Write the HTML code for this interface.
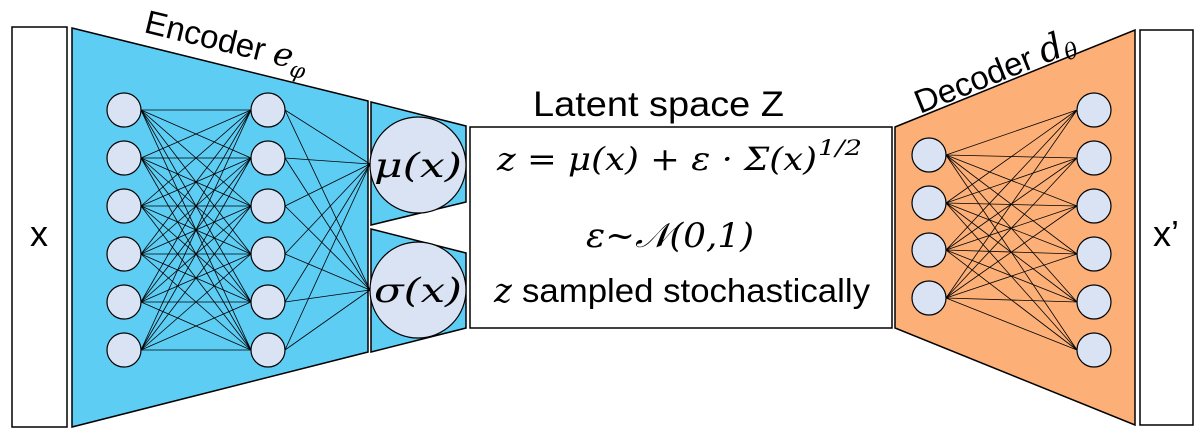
<!DOCTYPE html>
<html><head><meta charset="utf-8"><style>
html,body{margin:0;padding:0;background:#fff;width:1200px;height:438px;overflow:hidden}
svg{display:block}
.s{font-family:"Liberation Sans",sans-serif}
.m{font-family:"DejaVu Serif","Liberation Serif",serif;font-style:italic}
</style></head><body>
<svg id="g" width="1200" height="438" viewBox="0 0 1200 438" xmlns="http://www.w3.org/2000/svg">
<rect x="12" y="27" width="55" height="400" fill="#fff" stroke="#000" stroke-width="1.5"/>
<text x="39" y="246" class="s" font-size="36" text-anchor="middle">x</text>
<polygon points="72,28 368,101 368,352 72,427" fill="#5ecdf4" stroke="#000" stroke-width="1.5"/>
<polygon points="371,102 466,126 466,202 371,225" fill="#5ecdf4" stroke="#000" stroke-width="1.5"/>
<polygon points="371,229 466,253 466,328 371,352" fill="#5ecdf4" stroke="#000" stroke-width="1.5"/>
<polygon points="895,127 1135,30 1135,425 895,328" fill="#fcb077" stroke="#000" stroke-width="1.5"/>
<rect x="1140" y="30" width="53" height="395" fill="#fff" stroke="#000" stroke-width="1.5"/>
<text x="1166" y="246" class="s" font-size="36" text-anchor="middle">x’</text>
<rect x="470" y="127" width="422" height="201" fill="#fff" stroke="#000" stroke-width="1.5"/>
<g id="lines" stroke="#000" stroke-width="0.8"></g>
<g id="nodes" fill="#dae3f3" stroke="#000" stroke-width="1.2"></g>
<circle cx="418" cy="165" r="48" fill="#dae3f3" stroke="#000" stroke-width="1.2"/>
<circle cx="418" cy="290" r="48" fill="#dae3f3" stroke="#000" stroke-width="1.2"/>
<text x="418" y="177" class="m" font-size="34" text-anchor="middle" textLength="88" lengthAdjust="spacingAndGlyphs">μ(x)</text>
<text x="418" y="302" class="m" font-size="34" text-anchor="middle" textLength="88" lengthAdjust="spacingAndGlyphs">σ(x)</text>
<text x="533" y="116" class="s" font-size="35" textLength="251" lengthAdjust="spacingAndGlyphs">Latent space Z</text>
<text x="497" y="170" class="m" font-size="32" textLength="320" lengthAdjust="spacingAndGlyphs">z = μ(x) + ε · Σ(x)</text><text x="818" y="155" class="m" font-size="21" font-style="normal" textLength="44" lengthAdjust="spacingAndGlyphs">1/2</text>
<text x="670" y="247" class="m" font-size="34" text-anchor="middle" textLength="168" lengthAdjust="spacingAndGlyphs">ε~𝒩(0,1)</text>
<text x="494" y="302" class="m" font-size="34">z</text>
<text x="522" y="302" class="s" font-size="33" textLength="348" lengthAdjust="spacingAndGlyphs">sampled stochastically</text>
<text class="s" font-size="33" transform="translate(143,32) rotate(13.7)">Encoder <tspan class="m">e</tspan><tspan class="m" font-size="22" dy="8">φ</tspan></text>
<text class="s" font-size="33" transform="translate(920,114) rotate(-22)">Decoder <tspan class="m" font-size="36">d</tspan><tspan class="m" font-size="22" dy="6">θ</tspan></text>
</svg>
<script>
var L=document.getElementById('lines'),N=document.getElementById('nodes'),ns='http://www.w3.org/2000/svg';
function ln(a,b,c,d){var e=document.createElementNS(ns,'line');e.setAttribute('x1',a);e.setAttribute('y1',b);e.setAttribute('x2',c);e.setAttribute('y2',d);L.appendChild(e);}
function cr(x,y){var e=document.createElementNS(ns,'circle');e.setAttribute('cx',x);e.setAttribute('cy',y);e.setAttribute('r',17);N.appendChild(e);}
var six=[110,158,206,254,302,350],four=[155,203,250,298];
six.forEach(function(a){six.forEach(function(b){ln(141,a,251,b);});});
six.forEach(function(a){ln(285,a,370,164);ln(285,a,370,290);});
four.forEach(function(a){six.forEach(function(b){ln(946,a,1077,b);});});
six.forEach(function(y){cr(124,y);cr(268,y);cr(1094,y);});
four.forEach(function(y){cr(929,y);});
</script>
</body></html>
